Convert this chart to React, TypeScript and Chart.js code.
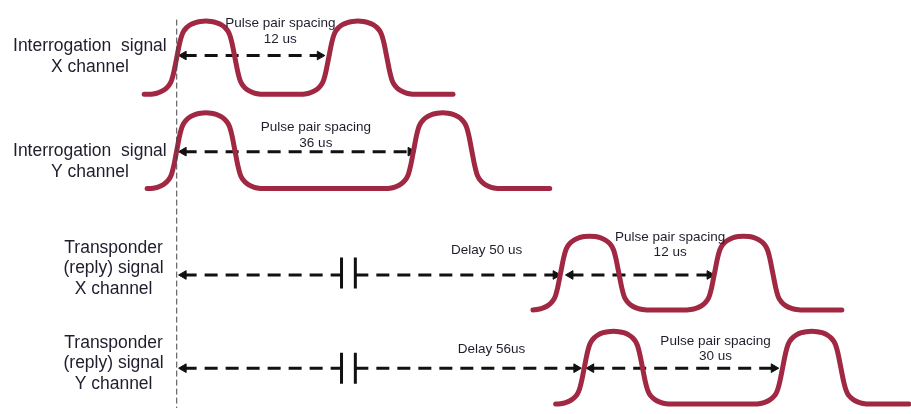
import { useEffect, useRef } from "react";
import { Chart, registerables } from "chart.js";

Chart.register(...registerables);

// Diagram units (horizontal position along the time line, vertical position on the page)
// Pulse template: offset from rising-edge mid point, and level (0 = baseline, 1 = top)
const pulseDx = [-28, -24, -19, -14, -10, -7, -5, -3, 0, 3, 5, 7, 10, 14, 19, 24, 29.5, 35, 40, 45, 49, 52, 54, 56, 59, 62, 64, 66, 69, 73, 78, 83, 87];
const pulseLevel = [0, 0.005, 0.02, 0.05, 0.09, 0.14, 0.2, 0.3, 0.5, 0.7, 0.8, 0.86, 0.91, 0.95, 0.98, 0.995, 1, 0.995, 0.98, 0.95, 0.91, 0.86, 0.8, 0.7, 0.5, 0.3, 0.2, 0.14, 0.09, 0.05, 0.02, 0.005, 0];

// Each signal row: trace start, rising edges of the two pulses, trace end, baseline and top
const rowNames = ["Interrogation X", "Interrogation Y", "Transponder X", "Transponder Y"];
const rowStart = [140, 143, 534, 557];
const rowRise1 = [173, 173, 562, 586];
const rowRise2 = [327, 413, 718, 787];
const rowEnd = [453, 551, 847, 915];
const rowBase = [91, 188, 313, 410];
const rowTop = [15.5, 110, 237, 335];

// Dashed arrows: from, to, level, heads
const arrowFrom = [175, 175, 175, 354, 567, 175, 354, 588];
const arrowTo = [323, 415, 340, 562, 718, 340, 583, 783];
const arrowY = [51, 150, 277, 277, 277, 373, 373, 373];
const arrowHeads = ["both", "both", "left", "right", "both", "left", "right", "both"];

// Break symbols (two bars) on the delay arrows
const breakX = [340, 354];
const breakTop = [259, 357];
const breakBottom = [291, 389];

// Time reference line
const refX = 173;
const refTop = 14;
const refBottom = 414;

// Texts
const rowLabels = [
  ["Interrogation  signal", "X channel"],
  ["Interrogation  signal", "Y channel"],
  ["Transponder", "(reply) signal", "X channel"],
  ["Transponder", "(reply) signal", "Y channel"],
];
const spacingLabels = [
  ["Pulse pair spacing", "12 us"],
  ["Pulse pair spacing", "36 us"],
  ["Pulse pair spacing", "12 us"],
  ["Pulse pair spacing", "30 us"],
];
const delayLabels = ["Delay 50 us", "Delay 56us"];

// Text layout
const rowLabelX = [85, 85, 109, 109];
const rowLabelY = [41, 149, 249, 347];
const rowLabelGap = [22, 22, 21.5, 21];
const spacingX = [278, 314, 673, 719];
const spacingY = [18, 125, 238, 345];
const delayX = [487, 492];
const delayY = [252, 354];

const PULSE_COLOR = "#a02843";
const INK = "#111111";
const TEXT = "#1e1e2c";

function buildRow(i: number) {
  const pts: { x: number; y: number }[] = [];
  const amp = rowBase[i] - rowTop[i];
  pts.push({ x: rowStart[i], y: rowBase[i] });
  for (const r of [rowRise1[i], rowRise2[i]]) {
    for (let k = 0; k < pulseDx.length; k++) {
      const x = r + pulseDx[k];
      if (x <= pts[pts.length - 1].x) continue;
      pts.push({ x, y: rowBase[i] - pulseLevel[k] * amp });
    }
  }
  pts.push({ x: rowEnd[i], y: rowBase[i] });
  return pts;
}

export default function App() {
  const ref = useRef<HTMLCanvasElement>(null);

  useEffect(() => {
    if (!ref.current) return;
    const datasets: any[] = [];

    // reference line
    datasets.push({
      label: "ref",
      data: [
        { x: refX, y: refTop },
        { x: refX, y: refBottom },
      ],
      showLine: true,
      borderColor: "#444",
      borderWidth: 1,
      borderDash: [6, 3],
      pointRadius: 0,
    });

    // signals
    rowNames.forEach((name, i) => {
      datasets.push({
        label: name,
        data: buildRow(i),
        showLine: true,
        borderColor: PULSE_COLOR,
        borderWidth: 5,
        borderCapStyle: "round",
        borderJoinStyle: "round",
        cubicInterpolationMode: "monotone",
        pointRadius: 0,
      });
    });

    // arrows
    const R = 5;
    arrowFrom.forEach((from, i) => {
      const h = arrowHeads[i];
      const left = h === "both" || h === "left";
      const right = h === "both" || h === "right";
      datasets.push({
        label: "arrow" + i,
        data: [
          { x: left ? from + R : from, y: arrowY[i] },
          { x: right ? arrowTo[i] - R : arrowTo[i], y: arrowY[i] },
        ],
        showLine: true,
        borderColor: INK,
        borderWidth: 3,
        borderDash: [13, 8],
        borderCapStyle: "butt",
        pointStyle: "triangle",
        pointRadius: [left ? R : 0, right ? R : 0],
        pointRotation: [-90, 90],
        pointBackgroundColor: INK,
        pointBorderColor: INK,
        pointBorderWidth: 1,
      });
    });

    // break bars
    breakTop.forEach((top, j) => {
      breakX.forEach((bx) => {
        datasets.push({
          label: "break",
          data: [
            { x: bx, y: top },
            { x: bx, y: breakBottom[j] },
          ],
          showLine: true,
          borderColor: INK,
          borderWidth: 3,
          pointRadius: 0,
        });
      });
    });

    const textPlugin = {
      id: "diagramText",
      afterDatasetsDraw(chart: any) {
        const { ctx, scales } = chart;
        const px = (v: number) => scales.x.getPixelForValue(v);
        const py = (v: number) => scales.y.getPixelForValue(v);
        ctx.save();
        ctx.fillStyle = TEXT;
        ctx.textAlign = "center";
        ctx.textBaseline = "middle";
        ctx.font = "17.5px 'Liberation Sans', Arial, sans-serif";
        rowLabels.forEach((lines, i) => {
          lines.forEach((t, k) => {
            ctx.fillText(t, px(rowLabelX[i]), py(rowLabelY[i] + k * rowLabelGap[i]));
          });
        });
        ctx.font = "13.5px 'Liberation Sans', Arial, sans-serif";
        spacingLabels.forEach((lines, i) => {
          lines.forEach((t, k) => {
            ctx.fillText(t, px(spacingX[i]), py(spacingY[i] + k * 16));
          });
        });
        delayLabels.forEach((t, i) => {
          ctx.fillText(t, px(delayX[i]), py(delayY[i]));
        });
        ctx.restore();
      },
    };

    const chart = new Chart(ref.current, {
      type: "scatter",
      data: { datasets },
      options: {
        animation: false,
        responsive: false,
        events: [],
        layout: { padding: 0 },
        plugins: { legend: { display: false }, tooltip: { enabled: false } },
        scales: {
          x: { type: "linear", min: 0, max: 911, display: false },
          y: { type: "linear", min: 0, max: 414, reverse: true, display: false },
        },
        datasets: { scatter: { clip: false } } as any,
      },
      plugins: [textPlugin],
    });
    return () => chart.destroy();
  }, []);

  return (
    <div style={{ position: "fixed", left: 0, top: 0, width: 911, height: 414, background: "#fff" }}>
      <canvas ref={ref} width={911} height={414} style={{ display: "block" }} />
    </div>
  );
}
